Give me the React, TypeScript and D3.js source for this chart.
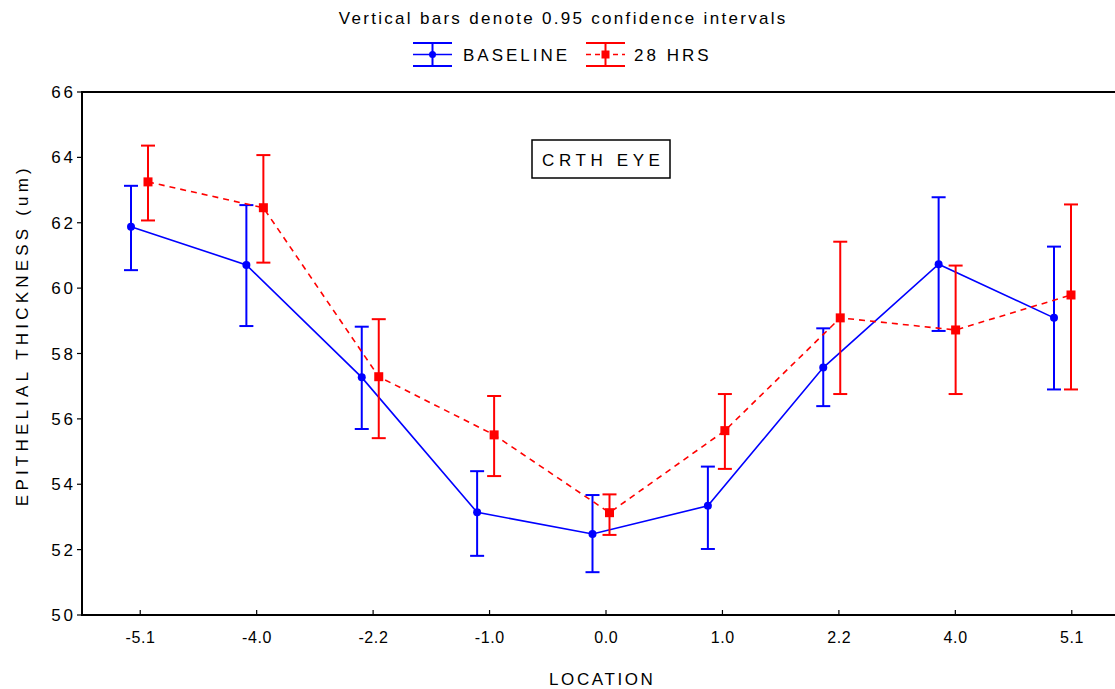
import React from "react";
import * as d3 from "d3";

const categories = ["-5.1", "-4.0", "-2.2", "-1.0", "0.0", "1.0", "2.2", "4.0", "5.1"];
const yTicks = [50, 52, 54, 56, 58, 60, 62, 64, 66];

const baselineMean = [61.88, 60.71, 57.27, 53.14, 52.48, 53.34, 57.57, 60.73, 59.09];
const baselineLow = [60.55, 58.84, 55.69, 51.81, 51.31, 52.02, 56.39, 58.69, 56.9];
const baselineHigh = [63.13, 62.54, 58.82, 54.4, 53.67, 54.54, 58.77, 62.78, 61.27];

const hrsMean = [63.25, 62.46, 57.29, 55.51, 53.13, 55.64, 59.09, 58.72, 59.79];
const hrsLow = [62.07, 60.78, 55.41, 54.25, 52.45, 54.47, 56.76, 56.76, 56.9];
const hrsHigh = [64.36, 64.07, 59.05, 56.7, 53.69, 56.76, 61.42, 60.69, 62.56];

const FONT = "'Liberation Sans', Arial, Helvetica, sans-serif";
const BLUE = "#0000ff";
const RED = "#ff0000";

export default function App() {
  const W = 1115;
  const H = 689;
  const left = 82;
  const right = 1130;
  const top = 92;
  const bottom = 615;

  const x = d3.scalePoint<string>().domain(categories).range([left, right]).padding(0.5);
  const xm = d3.scalePoint<string>().domain(categories).range([139.5, 1062.5]);
  const y = d3.scaleLinear().domain([50, 66]).range([bottom, top]);

  const series = [
    { name: "BASELINE", color: BLUE, mean: baselineMean, low: baselineLow, high: baselineHigh, off: -8.5, dash: undefined as string | undefined, marker: "circle" },
    { name: "28 HRS", color: RED, mean: hrsMean, low: hrsLow, high: hrsHigh, off: 8.5, dash: "6,5", marker: "square" },
  ];

  const capW = 7;

  const legendItems = [
    { name: "BASELINE", color: BLUE, sx: 413, tx: 463, dash: undefined as string | undefined, marker: "circle" },
    { name: "28 HRS", color: RED, sx: 586, tx: 634, dash: "5,4", marker: "square" },
  ];

  const titleLs = 2.3;
  const legLs = 3;
  const yLabLs = 4.2;
  const tickLs = 2.8;
  const xTickLs = 0.6;
  const locLs = 2.6;
  const boxLs = 4.6;

  return (
    <svg width={W} height={H} style={{ position: "absolute", left: 0, top: 0, background: "#fff" }} fontFamily={FONT}>
      <rect x={0} y={0} width={W} height={H} fill="#fff" />
      <text x={562 + titleLs / 2} y={24} textAnchor="middle" fontSize={17} letterSpacing={titleLs} fill="#000">
        Vertical bars denote 0.95 confidence intervals
      </text>
      {legendItems.map((l) => (
        <g key={l.name}>
          <line x1={l.sx} x2={l.sx + 39} y1={43} y2={43} stroke={l.color} strokeWidth={2} />
          <line x1={l.sx} x2={l.sx + 39} y1={66} y2={66} stroke={l.color} strokeWidth={2} />
          <line x1={l.sx + 19.5} x2={l.sx + 19.5} y1={43} y2={66} stroke={l.color} strokeWidth={2} />
          <line x1={l.sx} x2={l.sx + 39} y1={54.5} y2={54.5} stroke={l.color} strokeWidth={1.5} strokeDasharray={l.dash} />
          {l.marker === "circle" ? (
            <circle cx={l.sx + 19.5} cy={54.5} r={3.5} fill={l.color} />
          ) : (
            <rect x={l.sx + 15.5} y={50.5} width={8} height={8} fill={l.color} />
          )}
          <text x={l.tx} y={61} fontSize={17} letterSpacing={legLs} fill="#000">
            {l.name}
          </text>
        </g>
      ))}

      {/* frame */}
      <rect x={left} y={top} width={right - left} height={bottom - top} fill="none" stroke="#000" strokeWidth={2} />

      {/* y axis */}
      {yTicks.map((t) => (
        <g key={t}>
          <line x1={left - 5} x2={left} y1={y(t)} y2={y(t)} stroke="#000" strokeWidth={1.2} />
          <text x={73 + tickLs} y={y(t) + 6} textAnchor="end" fontSize={17} letterSpacing={tickLs} fill="#000">
            {t}
          </text>
        </g>
      ))}
      <text
        transform={`translate(28, ${333 + yLabLs / 2}) rotate(-90)`}
        textAnchor="middle"
        fontSize={17}
        letterSpacing={yLabLs}
        fill="#000"
      >
        EPITHELIAL THICKNESS (um)
      </text>

      {/* x axis */}
      {categories.map((c) => (
        <g key={c}>
          <line x1={x(c)!} x2={x(c)!} y1={bottom} y2={bottom - 5} stroke="#000" strokeWidth={1.2} />
          <text x={x(c)! + xTickLs / 2} y={643} textAnchor="middle" fontSize={16} letterSpacing={xTickLs} fill="#000">
            {c}
          </text>
        </g>
      ))}
      <text x={601 + locLs / 2} y={685} textAnchor="middle" fontSize={17} letterSpacing={locLs} fill="#000">
        LOCATION
      </text>

      {/* annotation box */}
      <rect x={532} y={140} width={138} height={38} fill="#fff" stroke="#000" strokeWidth={1.5} />
      <text x={601 + boxLs / 2} y={166} textAnchor="middle" fontSize={17} letterSpacing={boxLs} fill="#000">
        CRTH EYE
      </text>

      {/* series */}
      {series.map((s) => {
        const pts = s.mean.map((v, i) => [xm(categories[i])! + s.off, y(v)] as [number, number]);
        const path = d3.line()(pts) || "";
        return (
          <g key={s.name}>
            <path d={path} fill="none" stroke={s.color} strokeWidth={1.6} strokeDasharray={s.dash} />
            {s.mean.map((v, i) => {
              const cx = xm(categories[i])! + s.off;
              return (
                <g key={i}>
                  <line x1={cx} x2={cx} y1={y(s.low[i])} y2={y(s.high[i])} stroke={s.color} strokeWidth={2} />
                  <line x1={cx - capW} x2={cx + capW} y1={y(s.low[i])} y2={y(s.low[i])} stroke={s.color} strokeWidth={2} />
                  <line x1={cx - capW} x2={cx + capW} y1={y(s.high[i])} y2={y(s.high[i])} stroke={s.color} strokeWidth={2} />
                  {s.marker === "circle" ? (
                    <circle cx={cx} cy={y(v)} r={4} fill={s.color} />
                  ) : (
                    <rect x={cx - 4.5} y={y(v) - 4.5} width={9} height={9} fill={s.color} />
                  )}
                </g>
              );
            })}
          </g>
        );
      })}
    </svg>
  );
}
